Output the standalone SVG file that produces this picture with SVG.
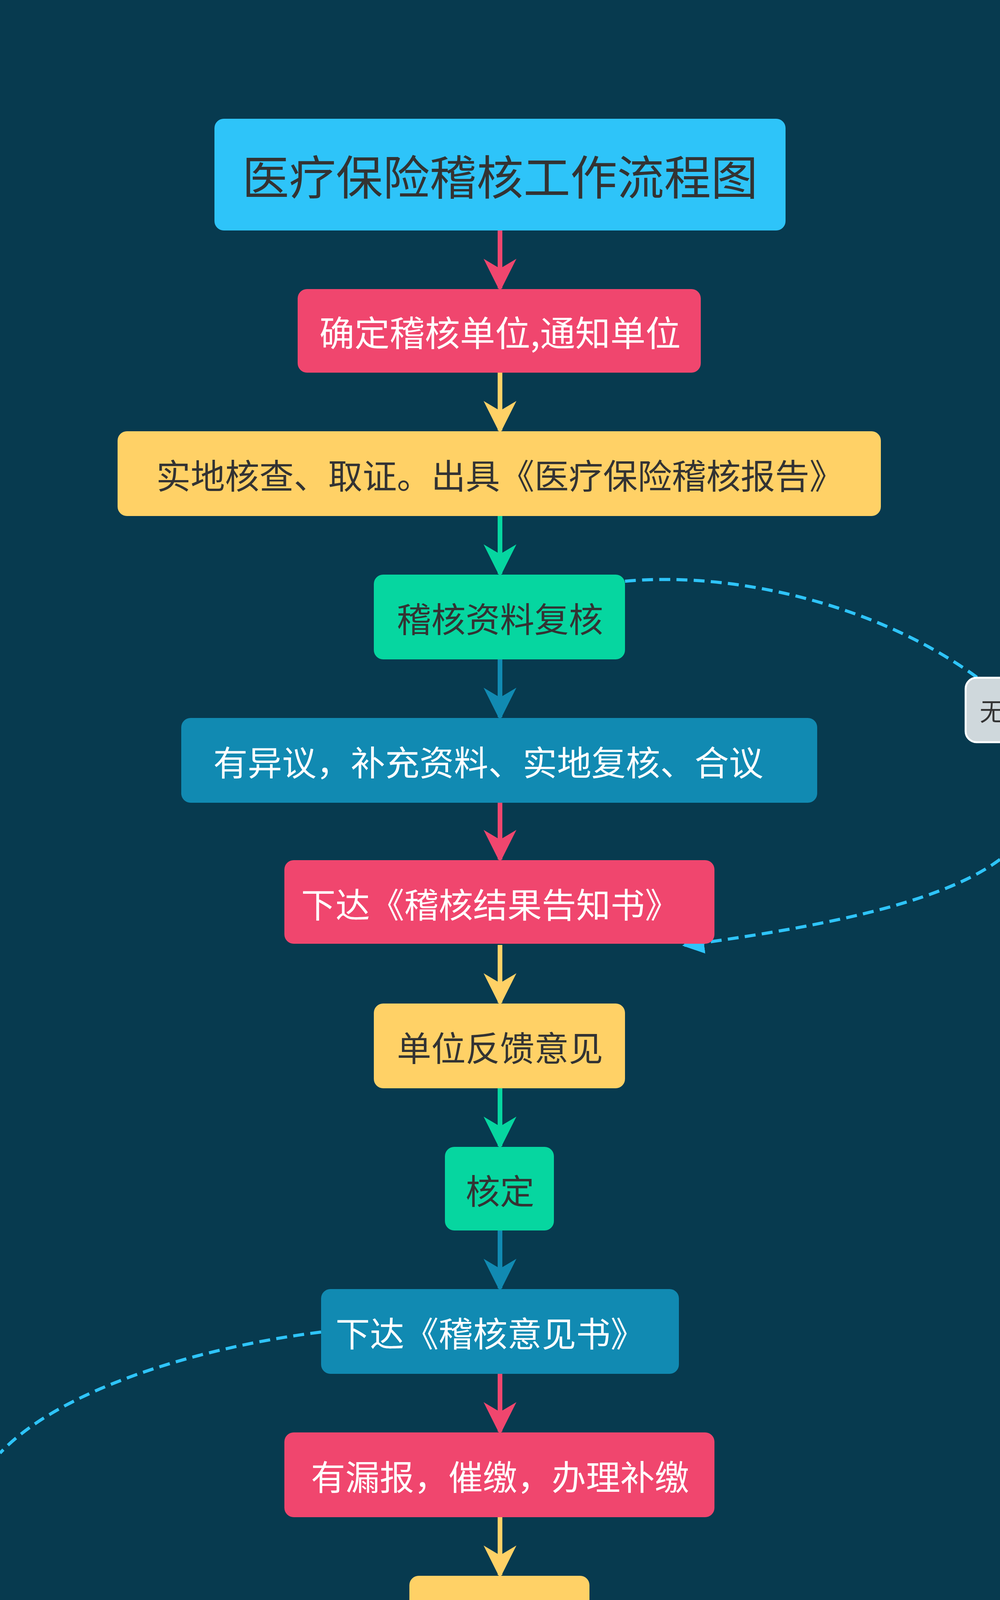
<svg xmlns="http://www.w3.org/2000/svg" width="2560" height="4917" viewBox="0 0 2560 4917">
<defs>
<style>
.t{font-family:"Noto Sans CJK SC","Liberation Sans",sans-serif;text-anchor:middle;dominant-baseline:central}
.d{fill:#333333}.w{fill:#ffffff}
.c{fill:none;stroke-width:12}
.dash{fill:none;stroke:#2EC4F9;stroke-width:8;stroke-dasharray:28 16}
</style>
<marker id="ar" viewBox="0 0 10 10" refX="9" refY="5" markerWidth="7" markerHeight="7" orient="auto" markerUnits="strokeWidth"><path d="M0,0L10,5L0,10L3,5Z" fill="context-stroke"/></marker>
<marker id="ab" viewBox="0 0 10 10" refX="9" refY="5" markerWidth="7" markerHeight="7" orient="auto" markerUnits="strokeWidth"><path d="M0,0L10,5L0,10Z" fill="#2EC4F9"/></marker>
</defs>
<rect width="2560" height="4917" fill="#073A4F"/>
<g id="connectors">
<path class="c" stroke="#F0466E" d="M1280 590V738" marker-end="url(#ar)"/>
<path class="c" stroke="#FFD166" d="M1280 954V1102" marker-end="url(#ar)"/>
<path class="c" stroke="#06D6A0" d="M1280 1321V1469" marker-end="url(#ar)"/>
<path class="c" stroke="#118AB2" d="M1280 1688V1836" marker-end="url(#ar)"/>
<path class="c" stroke="#F0466E" d="M1280 2055V2200" marker-end="url(#ar)"/>
<path class="c" stroke="#FFD166" d="M1280 2419V2567" marker-end="url(#ar)"/>
<path class="c" stroke="#06D6A0" d="M1280 2786V2934" marker-end="url(#ar)"/>
<path class="c" stroke="#118AB2" d="M1280 3150V3298" marker-end="url(#ar)"/>
<path class="c" stroke="#F0466E" d="M1280 3517V3665" marker-end="url(#ar)"/>
<path class="c" stroke="#FFD166" d="M1280 3884V4032" marker-end="url(#ar)"/>
<path class="c" stroke="#06D6A0" d="M1280 4248V4396" marker-end="url(#ar)"/>
<path class="dash" d="M1600 1488C1900 1460 2300 1560 2560 1780"/>
<path class="dash" d="M2560 2200C2400 2320 2050 2380 1752 2420" marker-end="url(#ab)"/>
<path class="dash" d="M822 3410C500 3450 150 3560 0 3720"/>
<path class="dash" d="M0 4330C150 4520 600 4660 1046 4612" marker-end="url(#ab)"/>
</g>
<g id="n1"><rect x="549" y="304" width="1462" height="286" rx="24" fill="#2EC4F9"/><text class="t d" x="1280" y="447" font-size="120">医疗保险稽核工作流程图</text></g>
<g id="n2"><rect x="762" y="740" width="1032" height="214" rx="24" fill="#F0466E"/><text class="t w" x="1280" y="847" font-size="90">确定稽核单位,通知单位</text></g>
<g id="n3"><rect x="301" y="1104" width="1954" height="217" rx="24" fill="#FFD166"/><text class="t d" x="1280" y="1212" font-size="88">实地核查、取证。出具《医疗保险稽核报告》</text></g>
<g id="n4"><rect x="957" y="1471" width="643" height="217" rx="24" fill="#06D6A0"/><text class="t d" x="1280" y="1579" font-size="88">稽核资料复核</text></g>
<g id="n5"><rect x="464" y="1838" width="1628" height="217" rx="24" fill="#118AB2"/><text class="t w" x="1250" y="1946" font-size="88">有异议，补充资料、实地复核、合议</text></g>
<g id="n6"><rect x="728" y="2202" width="1101" height="214" rx="24" fill="#F0466E"/><text class="t w" x="1255" y="2310" font-size="88">下达《稽核结果告知书》</text></g>
<g id="n7"><rect x="957" y="2569" width="643" height="217" rx="24" fill="#FFD166"/><text class="t d" x="1280" y="2677" font-size="88">单位反馈意见</text></g>
<g id="n8"><rect x="1139" y="2936" width="279" height="214" rx="24" fill="#06D6A0"/><text class="t d" x="1280" y="3043" font-size="88">核定</text></g>
<g id="n9"><rect x="822" y="3300" width="916" height="217" rx="24" fill="#118AB2"/><text class="t w" x="1255" y="3408" font-size="88">下达《稽核意见书》</text></g>
<g id="n10"><rect x="728" y="3667" width="1101" height="217" rx="24" fill="#F0466E"/><text class="t w" x="1280" y="3775" font-size="88">有漏报，催缴，办理补缴</text></g>
<g id="n11"><rect x="1048" y="4034" width="461" height="214" rx="24" fill="#FFD166"/><text class="t d" x="1280" y="4141" font-size="88">办理补缴</text></g>
<g id="n12"><rect x="1048" y="4398" width="461" height="217" rx="24" fill="#06D6A0"/><text class="t d" x="1280" y="4506" font-size="88">资料归档</text></g>
<g id="lbl1"><rect x="2472" y="1735" width="160" height="165" rx="28" fill="#CFD8DC" stroke="#ffffff" stroke-width="5"/><text class="t d" x="2540" y="1817" font-size="64">无</text></g>
<g id="lbl2"><rect x="-120" y="4125" width="160" height="165" rx="28" fill="#CFD8DC" stroke="#ffffff" stroke-width="5"/></g>
</svg>
